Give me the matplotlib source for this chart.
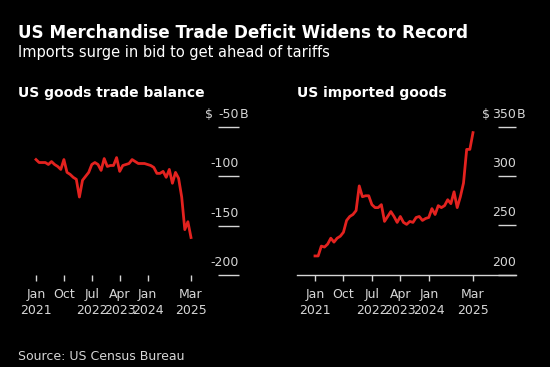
import matplotlib
matplotlib.use("Agg")
import matplotlib.pyplot as plt

# monthly data, Jan 2021 .. Mar 2025 (index 0..50)
balance = [-83, -86, -86, -86, -88, -85, -88, -90, -93, -83,
           -96, -98, -101, -103, -121, -104, -100, -96, -88, -86,
           -88, -94, -82, -90, -89, -89, -81, -95, -89, -88,
           -87, -83, -85, -87, -87, -87, -88, -89, -91, -97,
           -97, -95, -101, -93, -107, -96, -102, -121, -154, -146,
           -162]
imports = [219, 219, 229, 228, 231, 237, 233, 237, 239, 243,
           255, 259, 261, 265, 290, 279, 280, 280, 271, 268,
           268, 271, 254, 259, 264, 259, 253, 259, 253, 251,
           254, 253, 258, 259, 255, 257, 258, 267, 261, 270,
           268, 270, 276, 272, 284, 268, 279, 293, 327, 327,
           344]

tick_pos = [0, 9, 18, 27, 36, 50]
tick_lbl = ["Jan\n2021", "Oct", "Jul\n2022", "Apr\n2023", "Jan\n2024", "Mar\n2025"]

bal_ticks = [-50, -100, -150, -200]
imp_ticks = [350, 300, 250, 200]

W, H = 550, 367
RED = "#e3221f"
GREY = "#d6d6d6"

fig = plt.figure(figsize=(W / 100, H / 100), dpi=100, facecolor="black")

def px(x, y):
    return x / W, 1 - y / H

# titles
fig.text(*px(18, 38), "US Merchandise Trade Deficit Widens to Record", color="white",
         fontsize=12.1, fontweight="bold", va="baseline")
fig.text(*px(18, 57), "Imports surge in bid to get ahead of tariffs", color="white",
         fontsize=10.5, va="baseline")
fig.text(*px(18, 97), "US goods trade balance", color="white",
         fontsize=10, fontweight="bold", va="baseline")
fig.text(*px(297, 97), "US imported goods", color="white",
         fontsize=10, fontweight="bold", va="baseline")
fig.text(*px(18, 360), "Source: US Census Bureau", color=GREY, fontsize=9, va="baseline")


def panel(rect, xlim, ylim, data, yticks, grid_from, baseline):
    ax = fig.add_axes(rect)
    ax.set_facecolor("black")
    ax.plot(range(len(data)), data, color=RED, lw=2, clip_on=False, zorder=3)
    ax.set_xlim(*xlim)
    ax.set_ylim(*ylim)
    for s in ax.spines.values():
        s.set_visible(False)
    if baseline:
        ax.spines["bottom"].set_visible(True)
        ax.spines["bottom"].set_color(GREY)
        ax.spines["bottom"].set_linewidth(1)
    ax.set_yticks([])
    ax.set_xticks(tick_pos, tick_lbl)
    ax.tick_params(axis="x", colors=GREY, length=4.5, width=1, pad=5, labelsize=9)
    for t in ax.get_xticklabels():
        t.set_linespacing(1.3)
    # short right-side gridlines with labels above them
    ax.hlines(yticks, grid_from, 1, transform=ax.get_yaxis_transform(),
              color=GREY, lw=1, clip_on=False)
    for v in yticks:
        ax.annotate(str(v), (1, v), xycoords=ax.get_yaxis_transform(), xytext=(0, 6.5),
                    textcoords="offset points", ha="right", va="baseline",
                    color=GREY, fontsize=9)
    top = yticks[0]
    ax.annotate("B", (1, top), xycoords=ax.get_yaxis_transform(), xytext=(0.5, 6.5),
                textcoords="offset points", ha="left", va="baseline",
                color=GREY, fontsize=9)
    ax.annotate("$", (0.881, top), xycoords=ax.get_yaxis_transform(), xytext=(0, 6.5),
                textcoords="offset points", ha="right", va="baseline",
                color=GREY, fontsize=9)
    return ax


lx0 = px(20, 275)
panel([lx0[0], lx0[1], 219 / W, 148 / H], ((20 - 36) / 3.1, (239 - 36) / 3.1),
      (-200, -50), balance, bal_ticks, (218 - 20) / 219, False)
rx0 = px(297, 274.7)
panel([rx0[0], rx0[1], 219 / W, 148 / H], ((297 - 315) / 3.16, (516 - 315) / 3.16),
      (200, 350), imports, imp_ticks, (498 - 297) / 219, True)

fig.savefig("out.png", dpi=100, facecolor="black")
